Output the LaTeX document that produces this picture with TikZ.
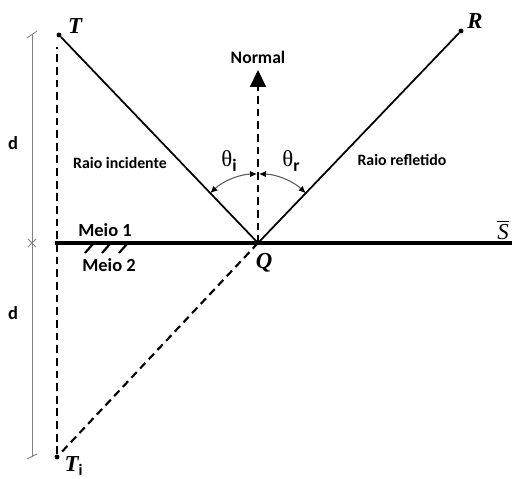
\documentclass[tikz,border=0pt]{standalone}
\usepackage{fontspec}
\setmainfont{Carlito}
\newfontfamily\timesfont{Liberation Serif}
\usetikzlibrary{arrows.meta, positioning, calc}

\begin{document}
\begin{tikzpicture}[
    x=0.02cm, y=0.02cm,
    point/.style={circle, fill=black, inner sep=0pt, minimum size=2.8pt},
    ray/.style={line width=1pt},
    dashray/.style={line width=1.2pt, dash pattern=on 4.4pt off 2.8pt},
    surface/.style={line width=2.3pt},
    dimline/.style={gray, line width=0.5pt},
    anglearc/.style={black!65, line width=0.6pt, {Latex[length=4pt,width=3.6pt,black]}-{Latex[length=4pt,width=3.6pt,black]}},
    letter/.style={font=\timesfont\bfseries\itshape\fontsize{13}{13}\selectfont, inner sep=0pt},
    tag/.style={font=\bfseries\fontsize{9}{10}\selectfont, inner sep=0pt},
    medium/.style={font=\bfseries\fontsize{10.5}{12}\selectfont, inner sep=0pt}
]
\useasboundingbox (0,0) rectangle (512,479);

% points of the construction
\node (T) [point] at (59,444) {};
\node (R) [point] at (461,448) {};
\coordinate (Q) at (258,236);
\node (Ti) [point] at (57,22) {};
\coordinate (N) at (258,409);
\coordinate (Sl) at (55,236);
\coordinate (Sr) at (512,236);
\coordinate (dtop) at (32,444);
\coordinate (dmid) at (32,236);
\coordinate (dbot) at (32,22);

% surface and rays
\draw [surface] (Sl) -- (Sr);
\draw [ray] (T) -- (Q);
\draw [ray] (Q) -- (R);
\draw [dashray] (Q) -- (Ti);
\draw [dashray, shorten >=7pt] (Ti) -- (Ti |- T);
\draw [dashray, -{Triangle[length=0.34cm, width=0.32cm]}] (Q) -- (N);

% hatching under the surface
\foreach \hx in {85,102,119}
    \draw [line width=1.2pt] (\hx,226) -- ++(8,9);

% angles
\draw [anglearc] ($(Q)+(133.7:69)$) arc[start angle=133.7, end angle=90.8, radius=69];
\draw [anglearc] ($(Q)+(89.2:69)$) arc[start angle=89.2, end angle=46.2, radius=69];

% distance d
\draw [dimline] (dtop) -- (dbot);
\draw [dimline] ($(dtop)+(-5,-3)$) -- ++(10,7);
\draw [dimline] ($(dbot)+(-5,-2)$) -- ++(10,5);
\draw [dimline] ($(dmid)+(-4,-4)$) -- ++(8,8);
\draw [dimline] ($(dmid)+(-4,4)$) -- ++(8,-8);

% labels
\node [letter] at (75,453) {T};
\node [letter] at (475,458) {R};
\node [letter] at (264,216) {Q};
\node [letter] at (74,13) {T\textsubscript{\normalfont\bfseries i}};
\node [font=\timesfont\itshape\fontsize{13}{13}\selectfont, inner sep=0pt] at (503,249) {$\overline{\mbox{\timesfont\itshape S}}$};
\node [tag, font=\bfseries\fontsize{10}{11}\selectfont] at (258,422) {Normal};
\node [tag] at (120,316) {Raio incidente};
\node [tag] at (402,319) {Raio refletido};
\node [medium] at (105,249) {Meio 1};
\node [medium] at (109,214) {Meio 2};
\node [medium] at (13,336) {d};
\node [medium] at (13,166) {d};
\node [inner sep=0pt] at (229,318) {{\timesfont\fontsize{13}{13}\selectfont θ}\raisebox{-3pt}{\bfseries i}};
\node [inner sep=0pt] at (291,318) {{\timesfont\fontsize{13}{13}\selectfont θ}\raisebox{-3pt}{\bfseries r}};
\end{tikzpicture}
\end{document}
